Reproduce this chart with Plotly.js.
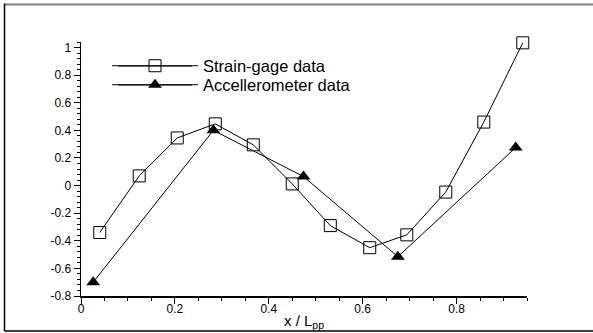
<!DOCTYPE html>
<html>
<head>
<meta charset="utf-8">
<script src="https://cdn.plot.ly/plotly-3.0.1.min.js"></script>
<style>html,body{margin:0;padding:0;background:#fff;overflow:hidden;}#chart{width:593px;height:333px;}</style>
</head>
<body>
<div id="chart"></div>
<script>
var strainX = [0.040, 0.124, 0.205, 0.286, 0.367, 0.450, 0.531, 0.615, 0.694, 0.777, 0.858, 0.941];
var strainY = [-0.34, 0.07, 0.345, 0.447, 0.295, 0.012, -0.29, -0.45, -0.357, -0.047, 0.46, 1.034];
var accelX = [0.026, 0.282, 0.474, 0.675, 0.926];
var accelY = [-0.70, 0.40, 0.065, -0.515, 0.275];
var xTickVals = [0, 0.2, 0.4, 0.6, 0.8];
var xTickText = ["0", "0.2", "0.4", "0.6", "0.8"];
var yTickVals = [-0.8, -0.6, -0.4, -0.2, 0, 0.2, 0.4, 0.6, 0.8, 1];
var yTickText = ["-0.8", "-0.6", "-0.4", "-0.2", "0", "0.2", "0.4", "0.6", "0.8", "1"];
var seriesNames = ["Strain-gage data", "Accellerometer data"];

var traces = [
  {x: strainX, y: strainY, name: seriesNames[0], type: 'scatter', mode: 'lines+markers', cliponaxis: false,
   legend: 'legend',
   line: {color: '#000', width: 1},
   marker: {symbol: 'square-open', size: 12, color: '#000', line: {width: 1, color: '#000'}}},
  {x: accelX, y: accelY, name: seriesNames[1], type: 'scatter', mode: 'lines+markers', cliponaxis: false,
   legend: 'legend2',
   line: {color: '#000', width: 1},
   marker: {symbol: 'triangle-up', size: 12, color: '#000'}}
];

var legFont = {family: 'Liberation Sans, Arial, sans-serif', size: 16.5, color: '#000'};
var axFont = {family: 'Liberation Sans, Arial, sans-serif', size: 12, color: '#000'};
var layout = {
  width: 593, height: 333,
  margin: {l: 81, r: 66, t: 42, b: 37},
  paper_bgcolor: '#fff', plot_bgcolor: '#fff',
  showlegend: true,
  legend: {x: 0.0583, y: 0.9055, xanchor: 'left', yanchor: 'middle', bgcolor: 'rgba(0,0,0,0)',
           font: legFont, itemwidth: 86},
  legend2: {x: 0.0583, y: 0.8307, xanchor: 'left', yanchor: 'middle', bgcolor: 'rgba(0,0,0,0)',
           font: legFont, itemwidth: 86},
  xaxis: {range: [0, 0.95], showgrid: false, zeroline: false, showline: true, linecolor: '#000', linewidth: 1.5,
          ticks: 'outside', ticklen: 6, tickwidth: 1, tickcolor: '#000', ticklabelstandoff: -5,
          tickmode: 'array', tickvals: xTickVals, ticktext: xTickText, tickfont: axFont,
          minor: {dtick: 0.05, ticklen: 3, tickwidth: 1, tickcolor: '#000', ticks: 'outside'},
          title: {text: 'x / L<sub>pp</sub>', font: {family: 'Liberation Sans, Arial, sans-serif', size: 15, color: '#000'}, standoff: 0}},
  yaxis: {range: [-0.8, 1.04], showgrid: false, zeroline: false, showline: true, linecolor: '#000', linewidth: 1.5,
          ticks: 'outside', ticklen: 6, tickwidth: 1, tickcolor: '#000',
          tickmode: 'array', tickvals: yTickVals, ticktext: yTickText, tickfont: axFont,
          minor: {dtick: 0.04, tick0: 0, ticklen: 3, tickwidth: 1, tickcolor: '#000', ticks: 'outside'}},
  shapes: [
    {type: 'line', xref: 'paper', yref: 'paper', x0: -0.1715, x1: 1.148, y0: 1.148, y1: 1.148, line: {color: '#808080', width: 2}},
    {type: 'line', xref: 'paper', yref: 'paper', x0: -0.1715, x1: -0.1715, y0: 1.152, y1: -0.138, line: {color: '#000', width: 1.5}},
    {type: 'line', xref: 'paper', yref: 'paper', x0: -0.1715, x1: 1.148, y0: -0.138, y1: -0.138, line: {color: '#000', width: 1.5}},
    {type: 'line', xref: 'paper', yref: 'paper', x0: 0.083, x1: 0.249, y0: 0.9055, y1: 0.9055, line: {color: '#000', width: 1}},
    {type: 'line', xref: 'paper', yref: 'paper', x0: 0.083, x1: 0.249, y0: 0.8307, y1: 0.8307, line: {color: '#000', width: 1}}
  ]
};

Plotly.newPlot('chart', traces, layout, {displayModeBar: false, staticPlot: true});
</script>
</body>
</html>
